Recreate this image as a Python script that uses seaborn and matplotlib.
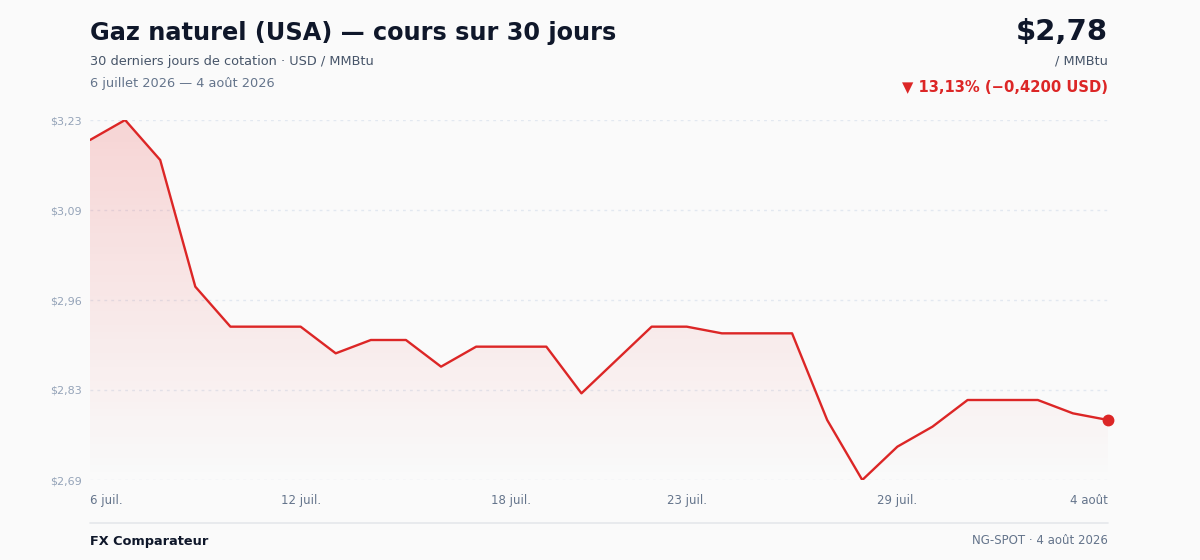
import numpy as np
import pandas as pd
import matplotlib
matplotlib.use("Agg")
import matplotlib.pyplot as plt
import seaborn as sns

# cours du gaz naturel, 30 jours calendaires (6 juil. -> 4 août 2026)
day_index = list(range(30))
prices = [3.20, 3.23, 3.17, 2.98, 2.92, 2.92, 2.92, 2.88, 2.90, 2.90,
          2.86, 2.89, 2.89, 2.89, 2.82, 2.87, 2.92, 2.92, 2.91, 2.91,
          2.91, 2.78, 2.69, 2.74, 2.77, 2.81, 2.81, 2.81, 2.79, 2.78]
x_tick_pos = [0, 6, 12, 17, 23, 29]
x_tick_labels = ["6 juil.", "12 juil.", "18 juil.", "23 juil.", "29 juil.", "4 août"]
y_tick_labels = ["$2,69", "$2,83", "$2,96", "$3,09", "$3,23"]

df = pd.DataFrame({"jour": day_index, "prix": prices})

RED = "#dc2626"
BG = "#fafafa"

sns.set_theme(style="white")
plt.rcParams["font.family"] = ["DejaVu Sans"]

fig = plt.figure(figsize=(12, 5.6), dpi=100, facecolor=BG)
ax = fig.add_axes([90 / 1200, 80 / 560, 1018 / 1200, 360 / 560])
ax.set_facecolor(BG)

ymin, ymax = min(prices), max(prices)
ax.set_xlim(0, 29)
ax.set_ylim(ymin, ymax)

# grille pointillée
yticks = np.linspace(ymin, ymax, 5)
for yt in yticks:
    ax.axhline(yt, color="#e2e8f0", lw=1, ls=(0, (2, 3)), zorder=0)

# remplissage en dégradé sous la courbe
grad = np.linspace(0.2, 0.0, 256).reshape(-1, 1)
cmap_img = np.zeros((256, 1, 4))
cmap_img[..., 0] = 0.92
cmap_img[..., 1] = 0.25
cmap_img[..., 2] = 0.25
cmap_img[..., 3] = grad
img = ax.imshow(cmap_img, aspect="auto", extent=[0, 29, ymin, ymax],
                origin="upper", zorder=1, interpolation="bilinear")
poly = ax.fill_between(df["jour"], df["prix"], ymin, color="none", lw=0)
clip = poly.get_paths()[0]
img.set_clip_path(clip, transform=ax.transData)

sns.lineplot(data=df, x="jour", y="prix", ax=ax, color=RED, lw=1.7, zorder=3)
ax.plot(day_index[-1], prices[-1], "o", color=RED, ms=7.5, zorder=4, clip_on=False)

ax.set_xlabel("")
ax.set_ylabel("")
ax.set_yticks(yticks)
ax.set_yticklabels(y_tick_labels, fontsize=8, color="#94a3b8")
ax.set_xticks(x_tick_pos)
ax.set_xticklabels(x_tick_labels, fontsize=8.5, color="#64748b")
labels = ax.get_xticklabels()
labels[0].set_ha("left")
labels[-1].set_ha("right")
ax.tick_params(axis="y", length=0, pad=6)
ax.tick_params(axis="x", length=0, pad=10)
sns.despine(ax=ax, left=True, bottom=True)

# textes d'en-tête
fig.text(90 / 1200, 1 - 33 / 560, "Gaz naturel (USA) — cours sur 30 jours",
         fontsize=17.3, fontweight="bold", color="#0f172a", va="center")
fig.text(90 / 1200, 1 - 61 / 560, "30 derniers jours de cotation · USD / MMBtu",
         fontsize=9.3, color="#475569", va="center")
fig.text(90 / 1200, 1 - 83 / 560, "6 juillet 2026 — 4 août 2026",
         fontsize=9.3, color="#64748b", va="center")
fig.text(1108 / 1200, 1 - 32 / 560, "$2,78", fontsize=21, fontweight="bold",
         color="#0f172a", va="center", ha="right")
fig.text(1108 / 1200, 1 - 61 / 560, "/ MMBtu", fontsize=9.3, color="#475569",
         va="center", ha="right")
fig.text(1108 / 1200, 1 - 87 / 560, "▼ 13,13% (−0,4200 USD)", fontsize=10.6,
         fontweight="bold", color=RED, va="center", ha="right")

# pied de page
fig.add_artist(plt.Line2D([90 / 1200, 1108 / 1200], [1 - 523 / 560, 1 - 523 / 560],
                          color="#e5e7eb", lw=1.2))
fig.text(90 / 1200, 1 - 541 / 560, "FX Comparateur", fontsize=9.3,
         fontweight="bold", color="#0f172a", va="center")
fig.text(1108 / 1200, 1 - 541 / 560, "NG-SPOT · 4 août 2026", fontsize=8.5,
         color="#64748b", va="center", ha="right")

fig.savefig("out.png", dpi=100, facecolor=BG)
